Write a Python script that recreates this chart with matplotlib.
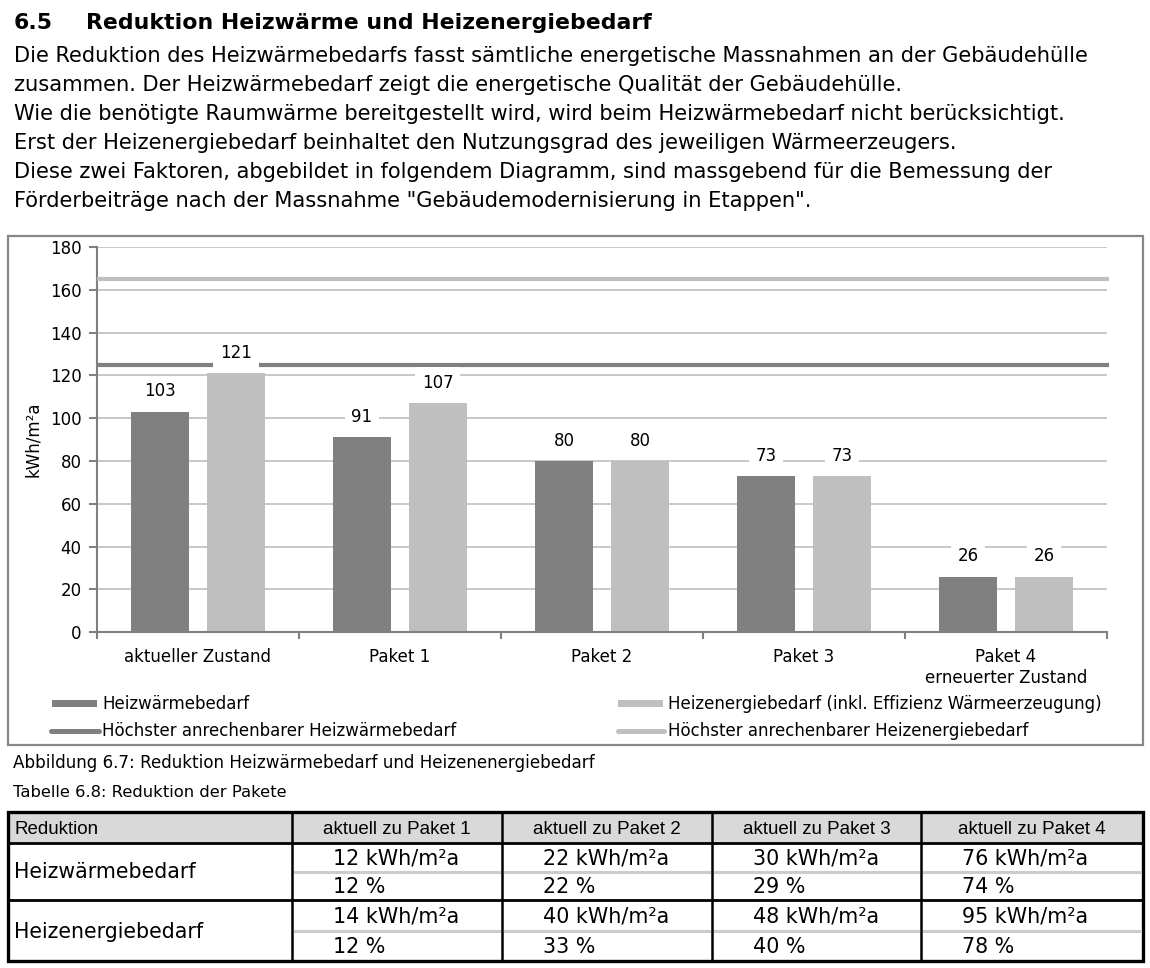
import matplotlib
matplotlib.use('Agg')
import matplotlib.pyplot as plt
from matplotlib.patches import Rectangle
import numpy as np

plt.rcParams['font.family'] = ['DejaVu Sans']

# chart data
categories = ['aktueller Zustand', 'Paket 1', 'Paket 2', 'Paket 3', 'Paket 4\nerneuerter Zustand']
heizwaerme = [103, 91, 80, 73, 26]
heizenergie = [121, 107, 80, 73, 26]
max_heizwaerme = 125
max_heizenergie = 165

# table data
table_header = ['Reduktion', 'aktuell zu Paket 1', 'aktuell zu Paket 2',
                'aktuell zu Paket 3', 'aktuell zu Paket 4']
row_names = ['Heizwärmebedarf', 'Heizenergiebedarf']
hw_kwh = [12, 22, 30, 76]
hw_pct = [12, 22, 29, 74]
he_kwh = [14, 40, 48, 95]
he_pct = [12, 33, 40, 78]

heading_nr = '6.5'
heading = 'Reduktion Heizwärme und Heizenergiebedarf'
paragraph = [
    'Die Reduktion des Heizwärmebedarfs fasst sämtliche energetische Massnahmen an der Gebäudehülle',
    'zusammen. Der Heizwärmebedarf zeigt die energetische Qualität der Gebäudehülle.',
    'Wie die benötigte Raumwärme bereitgestellt wird, wird beim Heizwärmebedarf nicht berücksichtigt.',
    'Erst der Heizenergiebedarf beinhaltet den Nutzungsgrad des jeweiligen Wärmeerzeugers.',
    'Diese zwei Faktoren, abgebildet in folgendem Diagramm, sind massgebend für die Bemessung der',
    'Förderbeiträge nach der Massnahme "Gebäudemodernisierung in Etappen".',
]

DARK = '#808080'
LIGHT = '#bfbfbf'
W, H = 1150, 968

fig = plt.figure(figsize=(W / 100, H / 100), dpi=100)
fig.patch.set_facecolor('white')

# page axes in pixel coordinates (origin top left)
page = fig.add_axes([0, 0, 1, 1])
page.set_xlim(0, W)
page.set_ylim(H, 0)
page.axis('off')

page.text(14, 29, heading_nr, fontsize=15.8, fontweight='bold', va='baseline')
page.text(86, 29, heading, fontsize=15.8, fontweight='bold', va='baseline')
for k, line in enumerate(paragraph):
    page.text(14, 62 + 29 * k, line, fontsize=15.1, va='baseline')

# chart frame
page.add_patch(Rectangle((8, 236), 1135, 509, fill=False, ec='#878787', lw=1.6))

# chart axes
ax = fig.add_axes([97 / W, 1 - 632.3 / H, 1010 / W, 385.4 / H])
x = np.arange(len(categories))
bw = 0.287
ax.bar(x - 0.188, heizwaerme, bw, color=DARK, zorder=2)
ax.bar(x + 0.188, heizenergie, bw, color=LIGHT, zorder=2)
ax.plot([-0.5, 4.51], [max_heizwaerme] * 2, color=DARK, lw=3, solid_capstyle='butt',
        clip_on=False, zorder=3)
ax.plot([-0.5, 4.51], [max_heizenergie] * 2, color=LIGHT, lw=3, solid_capstyle='butt',
        clip_on=False, zorder=3)

for xi, v in zip(x, heizwaerme):
    ax.text(xi - 0.188, v + 9.5, str(v), ha='center', va='center', fontsize=12, zorder=5,
            bbox=dict(boxstyle='square,pad=0.4', fc='white', ec='none'))
for xi, v in zip(x, heizenergie):
    ax.text(xi + 0.188, v + 9.5, str(v), ha='center', va='center', fontsize=12, zorder=5,
            bbox=dict(boxstyle='square,pad=0.4', fc='white', ec='none'))

ax.set_xlim(-0.5, 4.5)
ax.set_ylim(0, 180)
ax.set_yticks(range(0, 181, 20))
ax.yaxis.grid(True, color=LIGHT, lw=1.2, zorder=0)
ax.set_axisbelow(True)
ax.set_xticks(x)
ax.set_xticklabels(categories, fontsize=12, linespacing=1.25)
ax.set_xticks(np.arange(-0.5, 4.6, 1), minor=True)
ax.tick_params(axis='x', which='major', length=0, pad=11)
ax.tick_params(axis='x', which='minor', length=5, width=1.5, color=DARK)
ax.tick_params(axis='y', length=6, width=1.5, color=DARK, labelsize=12, pad=5)
for s in ['top', 'right']:
    ax.spines[s].set_visible(False)
ax.spines['left'].set_color(DARK)
ax.spines['bottom'].set_color(DARK)
ax.spines['left'].set_linewidth(1.5)
ax.spines['bottom'].set_linewidth(1.5)
ax.set_ylabel('kWh/m²a', fontsize=12, labelpad=6)

# legend
page.add_patch(Rectangle((52, 700), 45, 7, color=DARK, lw=0))
page.text(102, 704, 'Heizwärmebedarf', fontsize=12, va='center')
page.plot([51, 99], [731, 731], color=DARK, lw=3.6, solid_capstyle='round')
page.text(102, 731, 'Höchster anrechenbarer Heizwärmebedarf', fontsize=12, va='center')
page.add_patch(Rectangle((618, 700), 45, 7, color=LIGHT, lw=0))
page.text(668, 704, 'Heizenergiebedarf (inkl. Effizienz Wärmeerzeugung)', fontsize=12, va='center')
page.plot([618, 664], [731, 731], color=LIGHT, lw=3.6, solid_capstyle='round')
page.text(668, 731, 'Höchster anrechenbarer Heizenergiebedarf', fontsize=12, va='center')

page.text(13, 768, 'Abbildung 6.7: Reduktion Heizwärmebedarf und Heizenenergiebedarf',
          fontsize=12.1, va='baseline')
page.text(13, 797, 'Tabelle 6.8: Reduktion der Pakete', fontsize=11.8, va='baseline')

# table
cols = [8, 292, 502, 712, 921, 1143]
top, head_bot, mid, bot = 812, 843, 900, 961
narrow = ['Liberation Sans Narrow', 'Liberation Sans']
page.add_patch(Rectangle((cols[0], top), cols[-1] - cols[0], head_bot - top,
                         color='#d9d9d9', lw=0))
page.text(14, 829, table_header[0], fontsize=13.5, va='center', family=narrow)
for j in range(1, 5):
    page.text((cols[j] + cols[j + 1]) / 2, 829, table_header[j], fontsize=13.5,
              ha='center', va='center', family=narrow)

rows = [(hw_kwh, hw_pct), (he_kwh, he_pct)]
for r, (kwh, pct) in enumerate(rows):
    y0 = head_bot if r == 0 else mid
    y1 = mid if r == 0 else bot
    ym = (y0 + y1) / 2
    page.text(14, ym + 1, row_names[r], fontsize=14.8, va='center')
    for j in range(4):
        xl = cols[j + 1] + 41
        page.text(xl, (y0 + ym) / 2 + 1, f'{kwh[j]} kWh/m²a', fontsize=14.9, va='center')
        page.text(xl, (ym + y1) / 2 + 1, f'{pct[j]} %', fontsize=14.9, va='center')
        page.plot([cols[j + 1] + 3, cols[j + 2] - 3], [ym, ym], color='#cccccc', lw=2.2)

for yy in [head_bot, mid]:
    page.plot([cols[0], cols[-1]], [yy, yy], color='black', lw=2)
for xx in cols[1:-1]:
    page.plot([xx, xx], [top, bot], color='black', lw=1.8)
page.add_patch(Rectangle((cols[0], top), cols[-1] - cols[0], bot - top, fill=False,
                         ec='black', lw=2.4))

fig.savefig('out.png', dpi=100, facecolor='white')
